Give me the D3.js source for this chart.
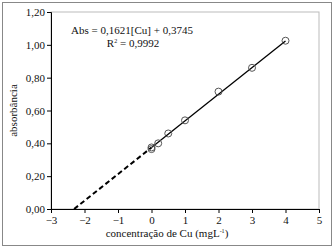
<!DOCTYPE html>
<html>
<head>
<meta charset="utf-8">
<script src="https://cdn.jsdelivr.net/npm/d3@7"></script>
<style>
  body { margin: 0; background: #fff; }
  text { font-family: "Liberation Serif", "DejaVu Serif", serif; fill: #111; }
</style>
</head>
<body>
<div id="viz"></div>
<script>
var width = 334;
var height = 249;

// data
var conc = [0, 0, 0.2, 0.5, 1, 2, 3, 4];
var absorb = [0.375, 0.365, 0.40, 0.46, 0.54, 0.715, 0.86, 1.025];
var xTicks = [-3, -2, -1, 0, 1, 2, 3, 4, 5];
var yTicks = [0, 0.2, 0.4, 0.6, 0.8, 1.0, 1.2];
var slope = 0.1621;
var intercept = 0.3745;

var margin = { left: 51, right: 15, top: 12, bottom: 40 };

var svg = d3.select('#viz').append('svg')
    .attr('width', width)
    .attr('height', height);

// outer frame
svg.append('rect')
    .attr('x', 2.5).attr('y', 2.5)
    .attr('width', width - 5).attr('height', height - 6)
    .attr('fill', 'none')
    .attr('stroke', '#888')
    .attr('stroke-width', 1);

var x = d3.scaleLinear().domain([-3, 5]).range([margin.left, width - margin.right]);
var y = d3.scaleLinear().domain([0, 1.2]).range([height - margin.bottom, margin.top]);

// plot area border (top/right grey)
svg.append('rect')
    .attr('x', x(-3)).attr('y', y(1.2))
    .attr('width', x(5) - x(-3)).attr('height', y(0) - y(1.2))
    .attr('fill', 'none')
    .attr('stroke', '#bbb');

var fmt = function (d) { return d3.format('.2f')(d).replace('.', ','); };

var yAxis = svg.append('g')
    .attr('transform', 'translate(' + x(-3) + ',0)')
    .call(d3.axisLeft(y).tickValues(yTicks).tickSize(4).tickFormat(fmt));

var xAxis = svg.append('g')
    .attr('transform', 'translate(0,' + y(0) + ')')
    .call(d3.axisBottom(x).tickValues(xTicks).tickSize(4).tickFormat(d3.format('d')));

[xAxis, yAxis].forEach(function (g) {
    g.select('.domain').attr('stroke', '#000');
    g.selectAll('.tick line').attr('stroke', '#000');
    g.selectAll('text')
        .style('font-family', '"Liberation Serif", serif')
        .style('font-size', '11px')
        .attr('fill', '#111');
});
yAxis.selectAll('text').attr('x', -6);
xAxis.selectAll('text').attr('y', 7);

// extrapolated dashed line to x-intercept
var x0 = -intercept / slope;
svg.append('line')
    .attr('x1', x(x0)).attr('y1', y(0))
    .attr('x2', x(0)).attr('y2', y(intercept))
    .attr('stroke', '#000')
    .attr('stroke-width', 2)
    .attr('stroke-dasharray', '5,3');

// fitted line
svg.append('line')
    .attr('x1', x(0)).attr('y1', y(intercept))
    .attr('x2', x(4)).attr('y2', y(slope * 4 + intercept))
    .attr('stroke', '#000')
    .attr('stroke-width', 1.3);

// points
svg.selectAll('circle.pt')
    .data(conc)
    .enter().append('circle')
    .attr('class', 'pt')
    .attr('cx', function (d) { return x(d); })
    .attr('cy', function (d, i) { return y(absorb[i]); })
    .attr('r', 3.5)
    .attr('fill', 'none')
    .attr('stroke', '#555')
    .attr('stroke-width', 1);

// equation
svg.append('text')
    .attr('x', 132).attr('y', 34)
    .attr('text-anchor', 'middle')
    .style('font-size', '11px')
    .text('Abs = 0,1621[Cu] + 0,3745');

var r2 = svg.append('text')
    .attr('x', 133).attr('y', 47)
    .attr('text-anchor', 'middle')
    .style('font-size', '11px');
r2.append('tspan').text('R');
r2.append('tspan').attr('dy', -4).style('font-size', '6px').text('2');
r2.append('tspan').attr('dy', 4).text(' = 0,9992');

// axis titles
svg.append('text')
    .attr('transform', 'translate(17,' + ((y(0) + y(1.2)) / 2) + ') rotate(-90)')
    .attr('text-anchor', 'middle')
    .style('font-size', '11px')
    .text('absorbância');

var xl = svg.append('text')
    .attr('x', 167).attr('y', 237)
    .attr('text-anchor', 'middle')
    .style('font-size', '11px');
xl.append('tspan').text('concentração de Cu (mgL');
xl.append('tspan').attr('dy', -4).style('font-size', '6px').text('-1');
xl.append('tspan').attr('dy', 4).text(')');
</script>
</body>
</html>
